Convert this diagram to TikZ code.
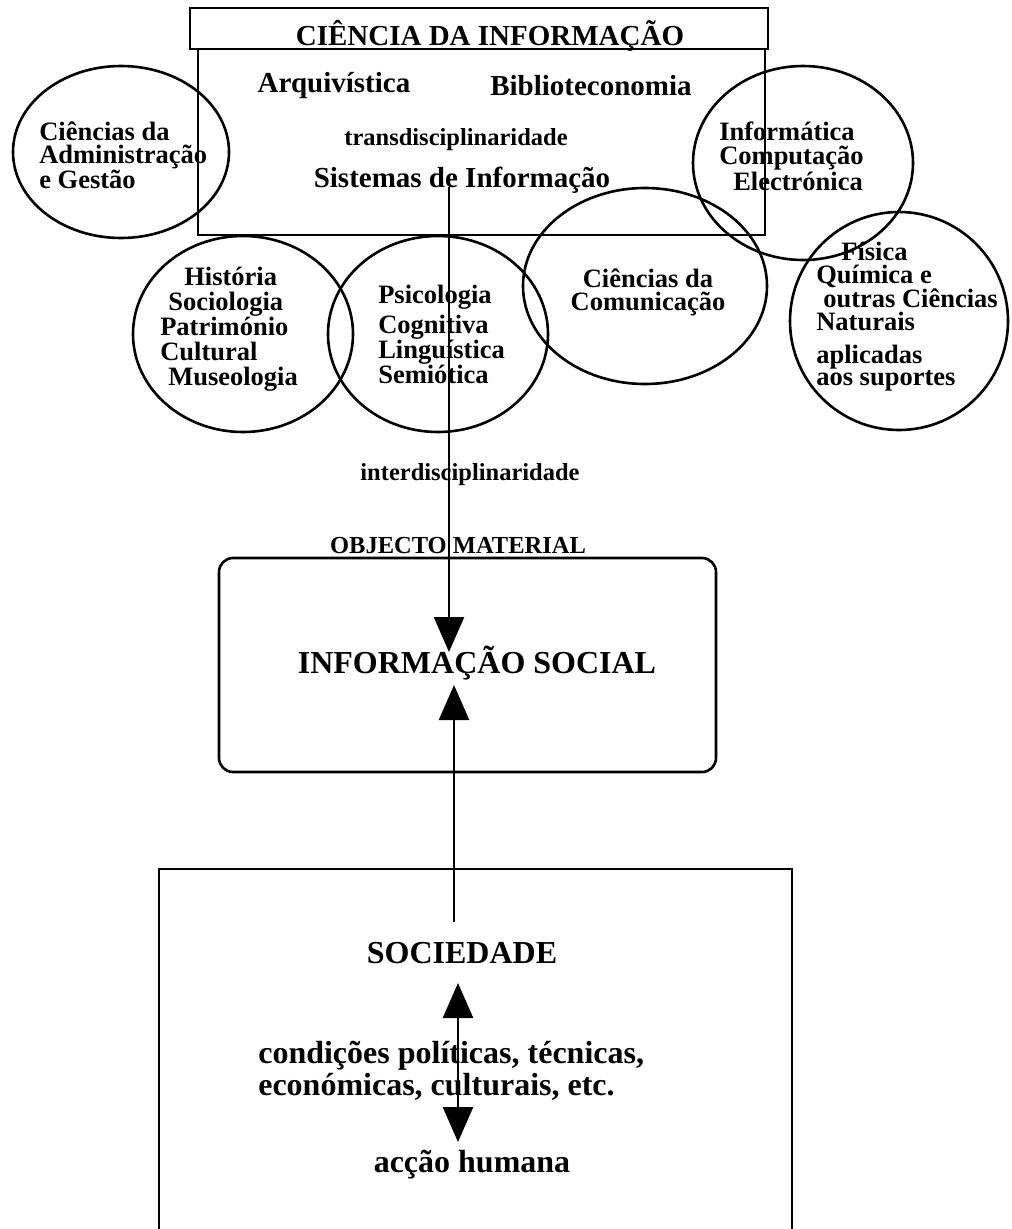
\documentclass[tikz,border=0pt]{standalone}
\usepackage{fontspec}
\setmainfont{Liberation Serif}
\usetikzlibrary{arrows.meta}

\begin{document}
\begin{tikzpicture}[x=1pt,y=-1pt,line width=2.6pt,
    titulo/.style={font=\fontsize{29}{29}\selectfont\bfseries,anchor=base,inner sep=0pt},
    menor/.style={font=\fontsize{24.5}{25}\selectfont\bfseries,anchor=base,inner sep=0pt},
    grande/.style={font=\fontsize{32}{32}\selectfont\bfseries,anchor=base,inner sep=0pt},
    area/.style={font=\fontsize{26.5}{#1}\selectfont\bfseries,anchor=base west,align=left,inner sep=0pt},
    area/.default=24,
    seta/.style={-{Triangle[length=35pt,width=30pt]}},
    seta2/.style={{Triangle[length=35pt,width=30pt]}-{Triangle[length=35pt,width=30pt]}}]

\useasboundingbox (0,0) rectangle (1012,1229);

% ciencia da informacao
\draw (190,8) rectangle (768,49);
\draw (198,49) rectangle (765,235);
\node[titulo] (ci) at (490,45) {CIÊNCIA DA INFORMAÇÃO};
\node[titulo] (arq) at (334,92) {Arquivística};
\node[titulo] (bib) at (591,95) {Biblioteconomia};
\node[menor] (trans) at (456,145) {transdisciplinaridade};
\node[titulo] (si) at (462,187) {Sistemas de Informação};

% disciplinas
\draw (121,152) ellipse [x radius=108, y radius=86];
\draw (803,163) ellipse [x radius=110, y radius=97];
\draw (645,286) ellipse [x radius=122, y radius=98];
\draw (899,321) ellipse [x radius=109, y radius=109];
\draw (243,334) ellipse [x radius=110, y radius=98];
\draw (438,334) ellipse [x radius=110, y radius=98];

\node[area=22.5] (adm) at (38,188) {Ciências da\\Administração\\e Gestão};
\node[area=24] (inf) at (718,190) {Informática\\Computação\\\hspace*{14pt}Electrónica};
\node[area=23,align=center,anchor=base] (com) at (648,310) {Ciências da\\Comunicação};
\node[area=22.7] (fis) at (815,330) {\hspace*{25pt}Física\\Química e\\\hspace*{7pt}outras Ciências\\Naturais};
\node[area=19] (apl) at (815,385) {aplicadas\\aos suportes};
\node[area=25] (hist) at (159,385) {\hspace*{24pt}História\\\hspace*{8pt}Sociologia\\Património\\Cultural\\\hspace*{8pt}Museologia};
\node[area=25] (psi) at (377,383) {Psicologia\\[5pt]Cognitiva\\Linguística\\Semiótica};

% objecto material
\node[menor] (inter) at (470,480) {interdisciplinaridade};
\node[menor] (obj) at (458,553) {OBJECTO MATERIAL};
\draw[rounded corners=14pt] (219,558) rectangle (716,772);
\node[grande] (infsoc) at (477,673) {INFORMAÇÃO SOCIAL};

% sociedade
\draw (159,1240) -- (159,869) -- (792,869) -- (792,1240);
\node[grande] (soc) at (462,963) {SOCIEDADE};
\node[font=\fontsize{32}{32}\selectfont\bfseries,anchor=base west,align=left,inner sep=0pt] (cond) at (257,1095)
    {condições políticas, técnicas,\\económicas, culturais, etc.};
\node[grande] (accao) at (472,1172) {acção humana};

\coordinate (alvo) at (449,652);
\coordinate (baixo) at (454,922);
\coordinate (cima) at (454,685);
\coordinate (t1) at (458,983);
\coordinate (t2) at (458,1142);
\draw[seta] (si.base -| alvo) -- (alvo);
\draw[seta] (baixo) -- (cima);
\draw[seta2] (t1) -- (t2);
\end{tikzpicture}
\end{document}
